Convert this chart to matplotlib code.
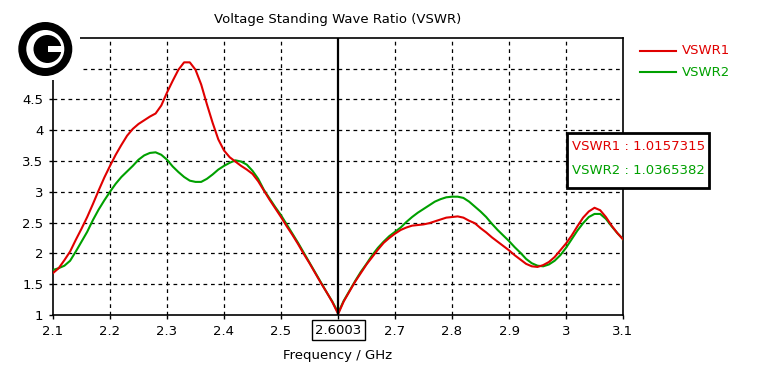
import numpy as np
import matplotlib
matplotlib.use('Agg')
import matplotlib.pyplot as plt
from matplotlib.patches import Circle, Rectangle
from matplotlib.transforms import blended_transform_factory

# Frequency samples (GHz), shared by both curves; 2.6003 is the marker point
freq = [2.10, 2.11, 2.12, 2.13, 2.14, 2.15, 2.16, 2.17, 2.18, 2.19,
        2.20, 2.21, 2.22, 2.23, 2.24, 2.25, 2.26, 2.27, 2.28, 2.29,
        2.30, 2.31, 2.32, 2.33, 2.34, 2.35, 2.36, 2.37, 2.38, 2.39,
        2.40, 2.41, 2.42, 2.43, 2.44, 2.45, 2.46, 2.47, 2.48, 2.49,
        2.50, 2.51, 2.52, 2.53, 2.54, 2.55, 2.56, 2.57, 2.58, 2.59,
        2.6003,
        2.61, 2.62, 2.63, 2.64, 2.65, 2.66, 2.67, 2.68, 2.69, 2.70,
        2.71, 2.72, 2.73, 2.74, 2.75, 2.76, 2.77, 2.78, 2.79, 2.80,
        2.81, 2.82, 2.83, 2.84, 2.85, 2.86, 2.87, 2.88, 2.89, 2.90,
        2.91, 2.92, 2.93, 2.94, 2.95, 2.96, 2.97, 2.98, 2.99, 3.00,
        3.01, 3.02, 3.03, 3.04, 3.05, 3.06, 3.07, 3.08, 3.09, 3.10]

vswr1 = [1.68, 1.76, 1.89, 2.03, 2.22, 2.40, 2.59, 2.80, 3.02, 3.23,
         3.42, 3.60, 3.76, 3.91, 4.02, 4.10, 4.16, 4.22, 4.27, 4.40,
         4.61, 4.80, 4.98, 5.10, 5.10, 4.98, 4.74, 4.42, 4.12, 3.85,
         3.67, 3.56, 3.49, 3.42, 3.36, 3.29, 3.17, 3.02, 2.87, 2.73,
         2.59, 2.44, 2.30, 2.15, 1.99, 1.84, 1.68, 1.52, 1.37, 1.21,
         1.0157,
         1.22, 1.38, 1.54, 1.68, 1.82, 1.94, 2.06, 2.17, 2.25, 2.32,
         2.38, 2.42, 2.45, 2.46, 2.47, 2.49, 2.52, 2.55, 2.58, 2.59,
         2.60, 2.58, 2.53, 2.49, 2.41, 2.34, 2.26, 2.19, 2.12, 2.05,
         1.97, 1.90, 1.83, 1.79, 1.78, 1.81, 1.86, 1.94, 2.05, 2.16,
         2.29, 2.44, 2.58, 2.68, 2.74, 2.70, 2.59, 2.45, 2.33, 2.23]

vswr2 = [1.73, 1.76, 1.80, 1.88, 2.03, 2.19, 2.35, 2.54, 2.71, 2.86,
         3.00, 3.13, 3.24, 3.33, 3.42, 3.52, 3.59, 3.63, 3.64, 3.60,
         3.52, 3.41, 3.32, 3.24, 3.18, 3.16, 3.16, 3.21, 3.28, 3.36,
         3.42, 3.47, 3.51, 3.49, 3.44, 3.34, 3.21, 3.03, 2.89, 2.75,
         2.62, 2.47, 2.32, 2.17, 2.01, 1.85, 1.69, 1.53, 1.37, 1.22,
         1.0365,
         1.23, 1.39, 1.55, 1.70, 1.83, 1.97, 2.09, 2.19, 2.28, 2.35,
         2.42, 2.51, 2.59, 2.66, 2.72, 2.78, 2.84, 2.88, 2.91, 2.92,
         2.92, 2.90, 2.84, 2.76, 2.68, 2.59, 2.48, 2.38, 2.29, 2.20,
         2.10, 2.01, 1.91, 1.84, 1.80, 1.79, 1.82, 1.88, 1.97, 2.09,
         2.23, 2.37, 2.49, 2.59, 2.64, 2.64, 2.56, 2.44, 2.33, 2.23]

marker_freq = 2.6003
marker_vals = {'VSWR1': '1.0157315', 'VSWR2': '1.0365382'}

xticks = [2.1, 2.2, 2.3, 2.4, 2.5, 2.6, 2.7, 2.8, 2.9, 3.0, 3.1]
xlabels = ['2.1', '2.2', '2.3', '2.4', '2.5', '', '2.7', '2.8', '2.9', '3', '3.1']
yticks = [1, 1.5, 2, 2.5, 3, 3.5, 4, 4.5, 5]
ylabels = ['1', '1.5', '2', '2.5', '3', '3.5', '4', '4.5', '']

red = '#e00000'
green = '#00a000'

plt.rcParams['font.family'] = ['DejaVu Sans']
fig = plt.figure(figsize=(7.61, 3.66), dpi=100)
W, H = 761, 366
ax = fig.add_axes([53 / W, 1 - 315 / H, (623 - 53) / W, (315 - 37.7) / H])

ax.plot(freq, vswr1, color=red, lw=1.5, zorder=4, label='VSWR1')
ax.plot(freq, vswr2, color=green, lw=1.5, zorder=3, label='VSWR2')

ax.set_xlim(2.1, 3.1)
ax.set_ylim(1, 5.5)
ax.set_xticks(xticks)
ax.set_xticklabels(xlabels)
ax.set_yticks(yticks)
ax.set_yticklabels(ylabels)
ax.tick_params(direction='out', length=3, width=1, labelsize=9.5, pad=4)

# dashed grid, skipping the 2.6 line (marker sits there)
for x in xticks[1:-1]:
    if abs(x - 2.6) > 1e-6:
        ax.axvline(x, color='black', lw=0.9, ls=(0, (3, 3)), zorder=1)
for y in yticks[1:]:
    ax.axhline(y, color='black', lw=0.9, ls=(0, (3, 3)), zorder=1)

for s in ax.spines.values():
    s.set_linewidth(1.2)

ax.axvline(marker_freq, color='black', lw=1.6, zorder=5)
trans = blended_transform_factory(ax.transData, ax.transAxes)
ax.text(marker_freq, -0.055, '2.6003', transform=trans, ha='center', va='center',
        fontsize=9.5, bbox=dict(boxstyle='square,pad=0.25', fc='white', ec='black', lw=1))

ax.set_title('Voltage Standing Wave Ratio (VSWR)', fontsize=9.5, pad=10.5)
ax.set_xlabel('Frequency / GHz', fontsize=9.5, labelpad=8)

# legend on the right
fig.add_artist(plt.Line2D([640 / W, 676 / W], [1 - 50.7 / H] * 2, color=red, lw=1.5))
fig.add_artist(plt.Line2D([640 / W, 676 / W], [1 - 72.3 / H] * 2, color=green, lw=1.5))
fig.text(682 / W, 1 - 50.7 / H, 'VSWR1', color=red, fontsize=9.5, va='center')
fig.text(682 / W, 1 - 72.3 / H, 'VSWR2', color=green, fontsize=9.5, va='center')

# marker readout box
fig.add_artist(Rectangle((567 / W, 1 - 188 / H), (709 - 567) / W, (188 - 133) / H,
                         transform=fig.transFigure, fc='white', ec='black', lw=2, zorder=6))
fig.text(572 / W, 1 - 147 / H, 'VSWR1 : ' + marker_vals['VSWR1'], color=red,
         fontsize=9.5, va='center', zorder=7)
fig.text(572 / W, 1 - 170 / H, 'VSWR2 : ' + marker_vals['VSWR2'], color=green,
         fontsize=9.5, va='center', zorder=7)

# logo in the top-left corner
logo = fig.add_axes([0, 1 - 80 / H, 80 / W, 80 / H])
logo.set_xlim(0, 80)
logo.set_ylim(80, 0)
logo.axis('off')
logo.add_patch(Rectangle((0, 0), 80, 80, fc='white', ec='none'))
logo.add_patch(Circle((45.3, 49), 27, fc='black', ec='none'))
logo.add_patch(Circle((45.3, 49), 19, fc='white', ec='none'))
logo.add_patch(Circle((47.5, 49), 14, fc='black', ec='none'))
logo.add_patch(Rectangle((47.5, 46), 15, 6, fc='white', ec='none'))

fig.savefig('out.png', dpi=100)
